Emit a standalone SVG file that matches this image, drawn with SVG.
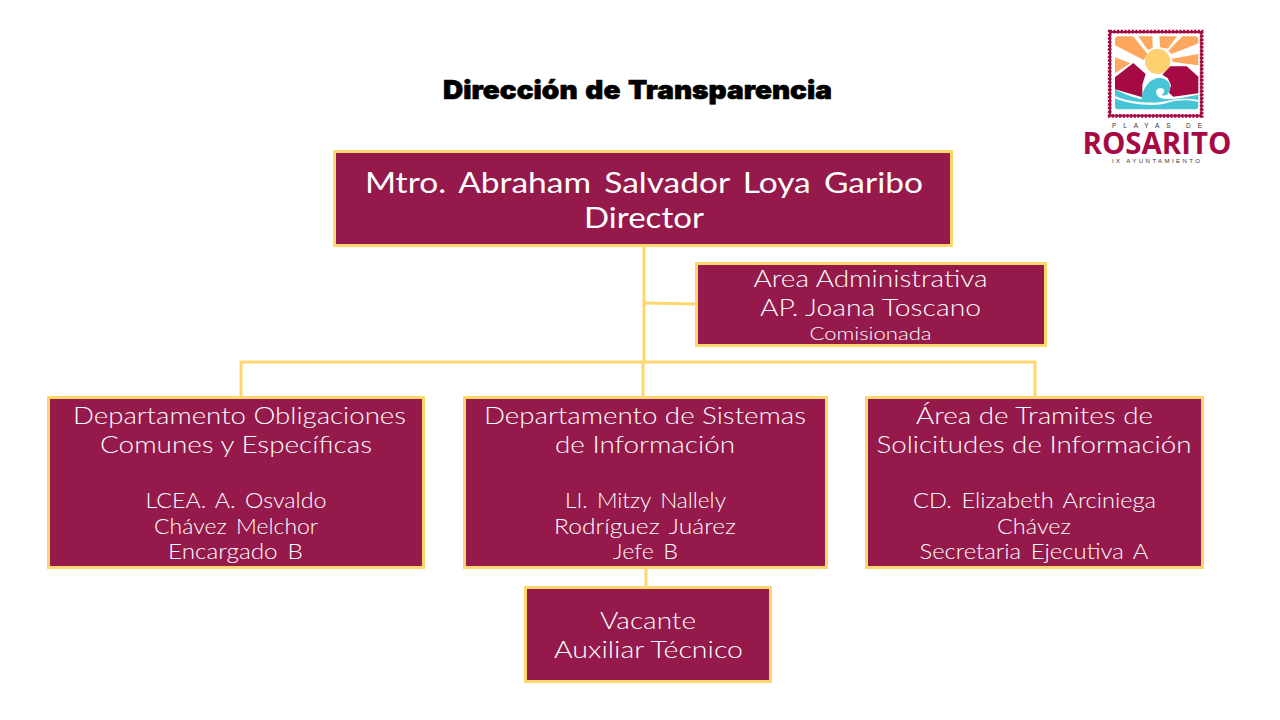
<svg xmlns="http://www.w3.org/2000/svg" width="1280" height="720" viewBox="0 0 1280 720">
<style>
.box{fill:#951a4b;stroke:#fdd76e;stroke-width:3}
.c{fill:none;stroke:#fdd76e;stroke-width:3}
text{font-family:"Lato","Open Sans",sans-serif;text-anchor:middle;fill:#fff;font-weight:300}
.t{font-size:24px}
.n{font-size:22px;word-spacing:3px}
.m{font-size:29px;font-weight:400;word-spacing:4px}
.lg{font-family:"Liberation Sans",sans-serif;fill:#333}
.ray{fill:#fda75f}
.mt{fill:#a50a45}
.wv{fill:#47c4d6}
</style>
<rect width="1280" height="720" fill="#fff"/>
<text x="637.5" y="99" textLength="389" lengthAdjust="spacingAndGlyphs" style="font-family:'Inter','Liberation Sans',sans-serif;font-weight:900;font-size:26px;word-spacing:2px;fill:#000;stroke:#000;stroke-width:.6">Dirección de Transparencia</text>
<g id="connectors">
<path class="c" d="M644 247V362"/>
<path class="c" d="M241 397V362H1035V397"/>
<path class="c" d="M643 362V397"/>
<path class="c" d="M645 303L696 304"/>
<path class="c" d="M646 568V587"/>
</g>
<g id="node-director">
<rect class="box" x="334.500" y="151.500" width="617" height="94"/>
<text class="m" x="644" y="193" textLength="558" lengthAdjust="spacingAndGlyphs">Mtro. Abraham Salvador Loya Garibo</text>
<text class="m" x="644" y="228" textLength="120" lengthAdjust="spacingAndGlyphs">Director</text>
</g>
<g id="node-admin">
<rect class="box" x="696.500" y="263.500" width="349" height="82"/>
<text class="t" x="870.500" y="287" textLength="234" lengthAdjust="spacingAndGlyphs">Area Administrativa</text>
<text class="t" x="870.500" y="316" textLength="221" lengthAdjust="spacingAndGlyphs">AP. Joana Toscano</text>
<text x="870.500" y="340" font-size="18" textLength="122" lengthAdjust="spacingAndGlyphs">Comisionada</text>
</g>
<g id="node-obligaciones">
<rect class="box" x="48.500" y="397.500" width="375" height="170"/>
<text class="t" x="239.500" y="424" textLength="333" lengthAdjust="spacingAndGlyphs">Departamento Obligaciones</text>
<text class="t" x="236" y="453" textLength="272" lengthAdjust="spacingAndGlyphs">Comunes y Específicas</text>
<text class="n" x="236" y="508" textLength="181" lengthAdjust="spacingAndGlyphs">LCEA. A. Osvaldo</text>
<text class="n" x="236" y="534" textLength="164" lengthAdjust="spacingAndGlyphs">Chávez Melchor</text>
<text class="n" x="235.500" y="559" textLength="135" lengthAdjust="spacingAndGlyphs">Encargado B</text>
</g>
<g id="node-sistemas">
<rect class="box" x="464.500" y="397.500" width="362" height="170"/>
<text class="t" x="645" y="424" textLength="322" lengthAdjust="spacingAndGlyphs">Departamento de Sistemas</text>
<text class="t" x="645" y="453" textLength="180" lengthAdjust="spacingAndGlyphs">de Información</text>
<text class="n" x="645.500" y="508" textLength="161" lengthAdjust="spacingAndGlyphs">LI. Mitzy Nallely</text>
<text class="n" x="645" y="534" textLength="182" lengthAdjust="spacingAndGlyphs">Rodríguez Juárez</text>
<text class="n" x="645.500" y="559" textLength="65" lengthAdjust="spacingAndGlyphs">Jefe B</text>
</g>
<g id="node-tramites">
<rect class="box" x="866.500" y="397.500" width="336" height="170"/>
<text class="t" x="1034.500" y="424" textLength="237" lengthAdjust="spacingAndGlyphs">Área de Tramites de</text>
<text class="t" x="1034" y="453" textLength="315" lengthAdjust="spacingAndGlyphs">Solicitudes de Información</text>
<text class="n" x="1034.500" y="508" textLength="243" lengthAdjust="spacingAndGlyphs">CD. Elizabeth Arciniega</text>
<text class="n" x="1034" y="534" textLength="74" lengthAdjust="spacingAndGlyphs">Chávez</text>
<text class="n" x="1034" y="559" textLength="229" lengthAdjust="spacingAndGlyphs">Secretaria Ejecutiva A</text>
</g>
<g id="node-vacante">
<rect class="box" x="525.500" y="587.500" width="245" height="94"/>
<text class="t" x="648" y="629" textLength="96" lengthAdjust="spacingAndGlyphs">Vacante</text>
<text class="t" x="648.500" y="658" textLength="189" lengthAdjust="spacingAndGlyphs">Auxiliar Técnico</text>
</g>
<g id="logo">
<g transform="translate(1105 28) scale(.33333)">
<rect x="14" y="11" width="276" height="253" fill="#fff" stroke="#a50a45" stroke-width="11" stroke-dasharray="7 4"/>
<rect x="15" y="12" width="274" height="251" fill="none" stroke="#a50a45" stroke-width="6"/>
<path class="ray" d="M36 25H84L128 78L116 96L30 52V31ZM100 25H142L143 60L128 66ZM163 25H216L188 62L165 58ZM232 25H270Q280 25 280 35V46L200 78L190 68ZM30 88L76 106L30 136ZM200 92L280 78V112L204 102Z"/>
<circle cx="158" cy="100" r="38" fill="#fdd070"/>
<path class="mt" d="M30 148L85 105L122 138L112 170L112 208L30 184ZM172 140L196 115L245 115L280 146V196L205 206L192 194L198 172L188 150Z"/>
<path class="wv" d="M30 184C60 200 90 210 110 214C112 186 130 152 162 150C190 150 204 172 190 196C184 204 176 204 170 200C182 194 180 180 166 180C152 180 150 196 160 206C178 220 230 210 280 200V216C240 208 200 214 180 220C150 228 70 224 30 204ZM30 211C70 230 150 236 182 226C210 216 250 214 280 222V234Q280 244 270 244H40Q30 244 30 234Z"/>
</g>
<text class="lg" x="1157" y="127.500" font-size="6.500" textLength="90" lengthAdjust="spacing">PLAYAS DE</text>
<text x="1157" y="154" textLength="149" lengthAdjust="spacingAndGlyphs" style="font-family:'Open Sans','Liberation Sans',sans-serif;font-size:30px;font-weight:700;fill:#a50a45">ROSARITO</text>
<text class="lg" x="1156" y="162.500" font-size="6" textLength="88" lengthAdjust="spacing">IX AYUNTAMIENTO</text>
</g>
</svg>
